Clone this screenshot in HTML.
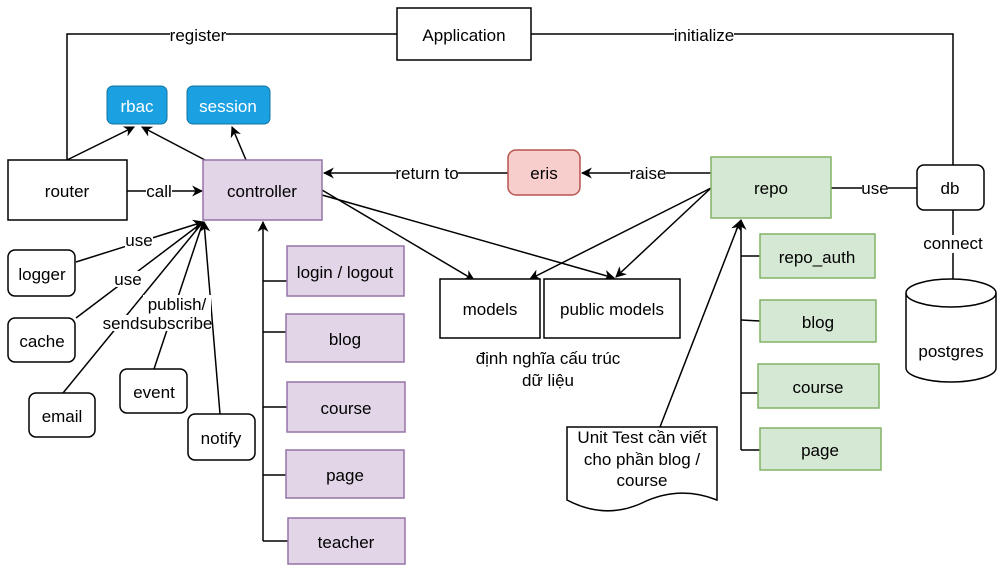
<!DOCTYPE html>
<html><head><meta charset="utf-8"><style>
body{margin:0;background:#fff}
svg{display:block}
text{font-family:"Liberation Sans","Noto Sans CJK SC",sans-serif;font-size:17px;fill:#000}
</style></head><body>
<svg width="1006" height="568" viewBox="0 0 1006 568">
<defs>
<marker id="a" viewBox="0 0 10 10" refX="9" refY="5" markerWidth="11" markerHeight="11" orient="auto" markerUnits="userSpaceOnUse"><path d="M0,0 L10,5 L0,10 L3,5 Z" fill="#000"/></marker>
</defs>
<g stroke="#000" stroke-width="1.5" fill="none">
<polyline points="67,160 67,34 397,34"/>
<polyline points="531,34 953,34 953,165"/>
<line x1="67" y1="160" x2="134" y2="127" marker-end="url(#a)"/>
<line x1="205" y1="160" x2="142" y2="127" marker-end="url(#a)"/>
<line x1="246" y1="160" x2="232" y2="127" marker-end="url(#a)"/>
<line x1="127" y1="191" x2="202" y2="191" marker-end="url(#a)"/>
<line x1="508" y1="173" x2="324" y2="173" marker-end="url(#a)"/>
<line x1="711" y1="173" x2="582" y2="173" marker-end="url(#a)"/>
<line x1="831" y1="188" x2="917" y2="188"/>
<line x1="953" y1="210" x2="953" y2="280"/>
<line x1="322" y1="190" x2="474" y2="280" marker-end="url(#a)"/>
<line x1="322" y1="195" x2="614" y2="278" marker-end="url(#a)"/>
<line x1="711" y1="188" x2="530" y2="279" marker-end="url(#a)"/>
<line x1="711" y1="188" x2="616" y2="277" marker-end="url(#a)"/>
<line x1="76" y1="262" x2="203" y2="222" marker-end="url(#a)"/>
<line x1="76" y1="318" x2="203" y2="222"/>
<line x1="63" y1="393" x2="203" y2="222"/>
<line x1="154" y1="369" x2="203" y2="222"/>
<line x1="220" y1="414" x2="204" y2="222" marker-end="url(#a)"/>
<line x1="263" y1="541" x2="263" y2="222" marker-end="url(#a)"/>
<line x1="263" y1="281" x2="287" y2="281"/>
<line x1="263" y1="332" x2="286" y2="332"/>
<line x1="263" y1="407" x2="287" y2="407"/>
<line x1="263" y1="475" x2="286" y2="475"/>
<line x1="263" y1="541" x2="288" y2="541"/>
<line x1="741" y1="450" x2="741" y2="220" marker-end="url(#a)"/>
<line x1="741" y1="256" x2="760" y2="256"/>
<line x1="741" y1="320" x2="760" y2="321"/>
<line x1="741" y1="393" x2="758" y2="393"/>
<line x1="741" y1="450" x2="760" y2="450"/>
<line x1="660" y1="427" x2="740" y2="221" marker-end="url(#a)"/>
</g>
<g fill="#fff">
<rect x="170" y="26" width="56" height="18"/><rect x="674" y="26" width="60" height="18"/>
<rect x="146" y="183" width="26" height="18"/><rect x="396" y="165" width="62" height="18"/>
<rect x="630" y="165" width="36" height="18"/><rect x="862" y="180" width="26" height="18"/>
<rect x="924" y="235" width="58" height="18"/>
<rect x="125" y="232" width="28" height="16"/><rect x="114" y="271" width="28" height="16"/>
<rect x="103" y="315" width="36" height="16"/><rect x="143" y="295" width="68" height="36"/>
</g>
<g>
<text x="198" y="41" text-anchor="middle">register</text>
<text x="704" y="41" text-anchor="middle">initialize</text>
<text x="159" y="197" text-anchor="middle">call</text>
<text x="427" y="179" text-anchor="middle">return to</text>
<text x="648" y="179" text-anchor="middle">raise</text>
<text x="875" y="194" text-anchor="middle">use</text>
<text x="953" y="249" text-anchor="middle">connect</text>
<text x="139" y="246" text-anchor="middle">use</text>
<text x="128" y="285" text-anchor="middle">use</text>
<text x="121" y="329" text-anchor="middle">send</text>
<text x="177" y="310" text-anchor="middle">publish/</text>
<text x="176" y="329" text-anchor="middle">subscribe</text>
</g>
<g stroke="#000" stroke-width="1.5" fill="#fff">
<rect x="397" y="8" width="134" height="52"/>
<rect x="8" y="160" width="119" height="60"/>
<rect x="440" y="279" width="100" height="59"/>
<rect x="544" y="279" width="136" height="59"/>
<rect x="917" y="165" width="67" height="45" rx="7"/>
<rect x="8" y="250" width="67" height="46" rx="7"/>
<rect x="8" y="318" width="67" height="44" rx="7"/>
<rect x="29" y="393" width="66" height="44" rx="7"/>
<rect x="120" y="369" width="67" height="44" rx="7"/>
<rect x="188" y="414" width="67" height="46" rx="7"/>
<path d="M906,293 A45,14 0 0 1 996,293 L996,368 A45,14 0 0 1 906,368 Z"/>
<path d="M906,293 A45,14 0 0 0 996,293" fill="none"/>
<path d="M567,427 L717,427 L717,500 Q679,485 642,503 Q605,520 567,500 Z"/>
</g>
<g fill="#1ba1e2" stroke="#10739e" stroke-width="1">
<rect x="107" y="86" width="60" height="38" rx="6"/>
<rect x="187" y="86" width="83" height="38" rx="6"/>
</g>
<rect x="508" y="150" width="72" height="45" rx="8" fill="#f8cecc" stroke="#b85450" stroke-width="1.5"/>
<g fill="#e1d5e7" stroke="#9673a6" stroke-width="1.5">
<rect x="203" y="160" width="119" height="60"/>
<rect x="287" y="246" width="117" height="50"/>
<rect x="286" y="314" width="118" height="48"/>
<rect x="287" y="382" width="118" height="50"/>
<rect x="286" y="450" width="118" height="48"/>
<rect x="288" y="518" width="117" height="46"/>
</g>
<g fill="#d5e8d4" stroke="#82b366" stroke-width="1.5">
<rect x="711" y="157" width="120" height="61"/>
<rect x="760" y="234" width="115" height="44"/>
<rect x="760" y="300" width="116" height="42"/>
<rect x="758" y="364" width="121" height="44"/>
<rect x="760" y="428" width="121" height="42"/>
</g>
<g text-anchor="middle">
<text x="464" y="41">Application</text>
<text x="137" y="112" style="fill:#fff">rbac</text>
<text x="228" y="112" style="fill:#fff">session</text>
<text x="67" y="197">router</text>
<text x="262" y="197">controller</text>
<text x="544" y="179">eris</text>
<text x="771" y="194">repo</text>
<text x="950" y="194">db</text>
<text x="490" y="315">models</text>
<text x="612" y="315">public models</text>
<text x="548" y="364">định nghĩa cấu trúc</text>
<text x="548" y="386">dữ liệu</text>
<text x="951" y="357">postgres</text>
<text x="42" y="280">logger</text>
<text x="42" y="347">cache</text>
<text x="62" y="422">email</text>
<text x="154" y="398">event</text>
<text x="221" y="444">notify</text>
<text x="345" y="278">login / logout</text>
<text x="345" y="345">blog</text>
<text x="346" y="414">course</text>
<text x="345" y="481">page</text>
<text x="346" y="548">teacher</text>
<text x="817" y="263">repo_auth</text>
<text x="818" y="328">blog</text>
<text x="818" y="393">course</text>
<text x="820" y="456">page</text>
<text x="642" y="443">Unit Test cần viết</text>
<text x="642" y="465">cho phần blog /</text>
<text x="642" y="486">course</text>
</g>
</svg>
</body></html>
